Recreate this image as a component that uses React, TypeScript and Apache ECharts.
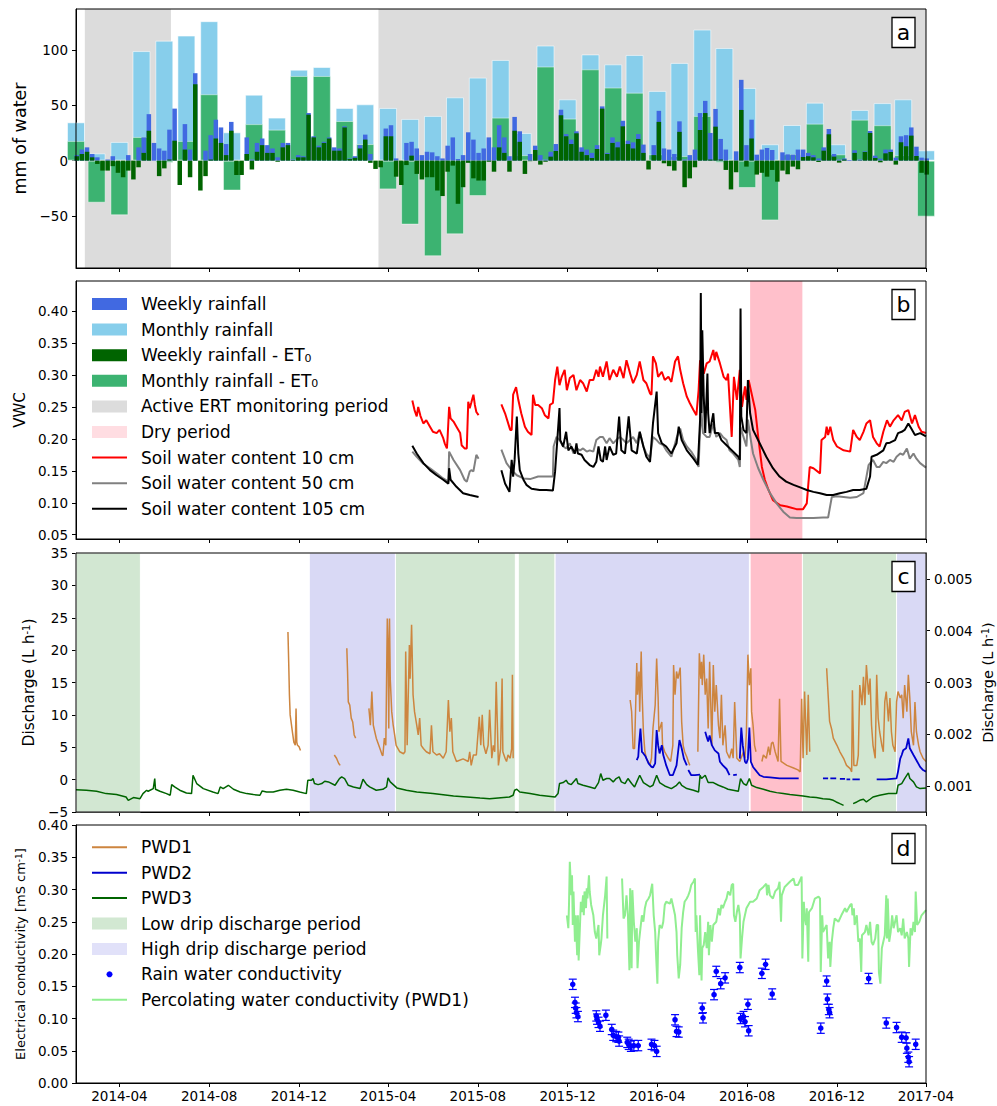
import { useEffect, useRef } from 'react';
import * as echarts from 'echarts';

const FONT = 'DejaVu Sans';
// x values are days counted from 2014-02-01 (2017-04-01 = day 1155)
const X_MAX = 1155;
const xTickDays = [59, 181, 303, 424, 546, 668, 790, 912, 1034, 1155];
const xTickLabels = ['2014-04', '2014-08', '2014-12', '2015-04', '2015-08', '2015-12', '2016-04', '2016-08', '2016-12', '2017-04'];

// ---------- panel a: rainfall (months from Feb 2014, weeks from 2014-02-02) ----------
const monthlyRain = [34.6, 6.6, 16.9, 99, 108.4, 113, 126, 25.6, 59.6, 38.9, 82.2, 84.6, 47.6, 50.9, 47.6, 37.7, 40.4, 57.2, 75, 91, 25, 104, 55.4, 96, 87, 95.5, 63, 88.3, 118.4, 101.8, 65.7, 14.8, 32.2, 52.4, 14.8, 45.8, 52, 55.4, 9.3];
const monthlyNet = [17.8, -38, -49.4, 21.4, -2, 17.8, 60, -27, 33, 28, 76.5, 76.5, 35.8, 15, -26, -57.8, -86.4, -66.6, -32, 38.9, 5, 85, 38, 82.5, 66, 61.4, 5.7, 4.2, 40.4, -2, -24.7, -54, 5.7, 33.4, 5.7, 37, 32, 5, -50.6];
const weeklyRain = [5, 10, 12, 6, 3, 0, 1, 4, 0, 0, 5, 0, 12, 21, 42, 16, 11, 9, 28, 47, 0, 33, 10, 79, 0, 9, 23, 37, 30, 15, 35, 0, 0, 21, 1, 16, 20, 14, 11, 3, 16, 16, 1, 5, 4, 43, 22, 13.5, 17, 21, 12, 11, 31, 2, 4, 14, 23.5, 6, 0, 0, 29, 32, 2, 0, 16, 17, 11, 5, 8, 7.5, 4, 2, 13.5, 21, 1.5, 5, 25.6, 19, 7, 11, 21, 12, 32, 21, 4, 39.5, 26.5, 0, 6, 13.5, 5, 1, 8, 15, 46, 24, 19, 26.5, 12, 10, 7, 14, 49, 7, 21, 17, 36, 18, 16.5, 24, 14.5, 0, 14, 45, 11, 10, 6, 35.5, 1, 5, 10, 43, 54, 25, 46.7, 19.6, 10, 0, 8.4, 73, 14, 37, 5.4, 10, 11.4, 9.6, 0, 7.5, 5.7, 5.4, 10, 10, 7, 5, 2, 12, 28.6, 6, 1, 2, 0.6, 9.3, 1, 8.4, 26.8, 4.5, 1.8, 10, 10, 2.7, 22, 23, 30, 12.6, 2.7, 2];
const weeklyNet = [4, 6, 8, 3, -3, -9, -9, -5, -11, -15, -9, -17, -6, 7, 27, 0, -14, -7, 1, 18, -22, 10, -15, 69, -27, -14, 1, 20, 16, 5, 27, -13, -13, 6, -8, 8, 14, 7, 7, -1, 12, 14, 0.5, 3, 3, 41.5, 21, 12, 16, 20, 9, 9, 30, 1.5, 2.5, 11, 19, -2, -7.5, -6, 22, 22, -14.5, -22, -4, 4.5, -12, -17, -15, -15, -27, -32, -10, -4.5, -39, -24, -2, -16, -18, -18, -1, -10, 12, 7, -10, 27, 17, -12, -0.5, 9.6, -3.6, -1, 3.6, 8.7, 41, 22, 15, 24.7, 8, 5, 2.4, 10.5, 47, 6, 16, 12, 31, 15, 11, 19.6, 7, -8, 5, 35, -2.4, -5, -9, 26, -24, -16, -6, 27.7, 43, 1, 30.7, 1, -8.4, -26, -10.5, 45.8, -5.4, 20, -12.6, -11, -14.5, -8.4, -19, -9, -12.3, -5.4, -7.8, 3.3, 4, 3, -1.2, 9, 23.8, 3.6, -1.8, 1, 0, 7, 0.3, 7.8, 25, 2.4, -1.5, 6.6, 7.8, -3.6, 16.6, 13, 22.6, 4.2, -11, -12.6];
const ertPeriods = [[12, 129], [411, 1155]];

// ---------- panel b: soil water content ----------
const dryPeriod = [916, 987];
const swc10 = [
  [[457, 0.260], [460, 0.245], [463, 0.235], [465, 0.250], [468, 0.236], [472, 0.224], [476, 0.229], [481, 0.219], [485, 0.211], [490, 0.209], [494, 0.214], [499, 0.201], [501, 0.193], [504, 0.185], [505, 0.203], [507, 0.250], [509, 0.232], [513, 0.227], [517, 0.219], [522, 0.209], [524, 0.190], [528, 0.185], [531, 0.185], [533, 0.258], [535, 0.248], [537, 0.256], [540, 0.269], [542, 0.253], [544, 0.242], [547, 0.237]],
  [[578, 0.254], [583, 0.240], [590, 0.214], [592, 0.214], [594, 0.269], [598, 0.281], [601, 0.261], [605, 0.240], [610, 0.219], [614, 0.211], [619, 0.206], [621, 0.269], [624, 0.253], [628, 0.253], [633, 0.248], [637, 0.237], [642, 0.232], [644, 0.253], [648, 0.256], [651, 0.292], [654, 0.313], [657, 0.284], [660, 0.297], [664, 0.308], [667, 0.276], [671, 0.295], [676, 0.300], [680, 0.276], [685, 0.292], [689, 0.287], [694, 0.274], [698, 0.292], [703, 0.292], [707, 0.308], [710, 0.297], [712, 0.313], [716, 0.297], [721, 0.321], [725, 0.292], [730, 0.308], [735, 0.297], [739, 0.313], [744, 0.295], [748, 0.323], [753, 0.302], [757, 0.287], [762, 0.300], [766, 0.321], [771, 0.292], [775, 0.287], [780, 0.271], [782, 0.269], [784, 0.329], [788, 0.318], [791, 0.297], [796, 0.305], [800, 0.292], [805, 0.297], [809, 0.289], [814, 0.321], [818, 0.329], [821, 0.308], [825, 0.287], [830, 0.266], [834, 0.256], [839, 0.245], [843, 0.237], [846, 0.276], [848, 0.323], [850, 0.315], [853, 0.302], [857, 0.318], [861, 0.321], [866, 0.339], [868, 0.323], [870, 0.336], [875, 0.318], [880, 0.297], [884, 0.292], [886, 0.302], [891, 0.203], [894, 0.297], [898, 0.261], [902, 0.308], [905, 0.250], [909, 0.282], [911, 0.261], [914, 0.292], [918, 0.271], [923, 0.245], [927, 0.203], [932, 0.156], [936, 0.136], [941, 0.120], [947, 0.104], [957, 0.096], [966, 0.094], [979, 0.090], [988, 0.090], [993, 0.099], [997, 0.156], [1002, 0.154], [1011, 0.146], [1013, 0.198], [1018, 0.203], [1020, 0.219], [1022, 0.206], [1025, 0.219], [1029, 0.198], [1034, 0.188], [1043, 0.182], [1052, 0.180], [1056, 0.214], [1061, 0.203], [1065, 0.198], [1070, 0.211], [1074, 0.224], [1079, 0.229], [1083, 0.203], [1088, 0.193], [1092, 0.188], [1097, 0.211], [1102, 0.229], [1106, 0.219], [1111, 0.229], [1117, 0.237], [1122, 0.229], [1126, 0.242], [1131, 0.245], [1136, 0.224], [1140, 0.237], [1145, 0.219], [1149, 0.211], [1155, 0.209]],
];
const swc50 = [
  [[457, 0.180], [463, 0.172], [472, 0.161], [481, 0.154], [490, 0.146], [499, 0.138], [506, 0.133], [507, 0.180], [513, 0.167], [522, 0.151], [528, 0.136], [531, 0.133], [535, 0.149], [537, 0.151], [540, 0.149], [542, 0.162], [544, 0.175], [547, 0.169]],
  [[578, 0.183], [585, 0.162], [592, 0.151], [599, 0.143], [608, 0.138], [617, 0.137], [628, 0.141], [639, 0.141], [648, 0.141], [649, 0.188], [653, 0.203], [657, 0.198], [662, 0.188], [666, 0.185], [671, 0.193], [676, 0.177], [680, 0.185], [685, 0.182], [689, 0.185], [694, 0.180], [698, 0.182], [703, 0.180], [707, 0.198], [712, 0.203], [716, 0.203], [721, 0.193], [725, 0.201], [730, 0.193], [734, 0.198], [739, 0.203], [744, 0.198], [748, 0.193], [753, 0.198], [757, 0.203], [762, 0.193], [766, 0.211], [771, 0.188], [775, 0.177], [780, 0.170], [784, 0.203], [789, 0.198], [793, 0.193], [798, 0.190], [802, 0.182], [809, 0.172], [816, 0.201], [821, 0.216], [825, 0.198], [830, 0.188], [836, 0.180], [843, 0.167], [846, 0.156], [848, 0.214], [850, 0.240], [852, 0.209], [857, 0.203], [861, 0.203], [866, 0.224], [870, 0.203], [875, 0.209], [879, 0.203], [884, 0.198], [888, 0.182], [893, 0.177], [900, 0.167], [902, 0.156], [903, 0.219], [907, 0.203], [911, 0.188], [913, 0.230], [917, 0.198], [920, 0.177], [927, 0.154], [934, 0.136], [943, 0.115], [952, 0.099], [961, 0.086], [970, 0.077], [979, 0.076], [993, 0.076], [1002, 0.076], [1015, 0.077], [1022, 0.077], [1027, 0.109], [1034, 0.110], [1043, 0.109], [1052, 0.108], [1061, 0.109], [1070, 0.115], [1077, 0.159], [1079, 0.162], [1083, 0.167], [1088, 0.156], [1092, 0.156], [1097, 0.164], [1101, 0.162], [1106, 0.167], [1111, 0.164], [1115, 0.172], [1120, 0.177], [1124, 0.175], [1129, 0.185], [1133, 0.169], [1138, 0.177], [1142, 0.169], [1147, 0.162], [1155, 0.155]],
];
const swc105 = [
  [[457, 0.189], [463, 0.177], [472, 0.162], [481, 0.151], [490, 0.143], [499, 0.136], [506, 0.130], [507, 0.154], [509, 0.136], [517, 0.125], [526, 0.115], [535, 0.112], [547, 0.109]],
  [[578, 0.151], [583, 0.130], [589, 0.117], [592, 0.167], [594, 0.141], [596, 0.167], [599, 0.235], [601, 0.177], [603, 0.151], [608, 0.136], [612, 0.128], [619, 0.122], [630, 0.120], [639, 0.120], [648, 0.119], [651, 0.149], [654, 0.198], [657, 0.248], [658, 0.198], [662, 0.188], [666, 0.211], [669, 0.182], [673, 0.188], [678, 0.177], [680, 0.193], [682, 0.177], [687, 0.175], [691, 0.167], [698, 0.159], [703, 0.156], [707, 0.164], [710, 0.188], [713, 0.167], [716, 0.164], [719, 0.188], [721, 0.167], [725, 0.188], [730, 0.175], [734, 0.177], [738, 0.235], [741, 0.182], [746, 0.177], [751, 0.235], [755, 0.182], [762, 0.177], [766, 0.211], [771, 0.188], [775, 0.172], [780, 0.164], [784, 0.224], [789, 0.274], [791, 0.209], [796, 0.193], [802, 0.188], [809, 0.177], [816, 0.193], [819, 0.219], [823, 0.198], [830, 0.182], [839, 0.169], [845, 0.159], [848, 0.229], [849, 0.428], [850, 0.240], [851, 0.370], [853, 0.266], [855, 0.209], [858, 0.302], [859, 0.240], [861, 0.209], [866, 0.240], [868, 0.209], [873, 0.209], [877, 0.198], [884, 0.190], [893, 0.180], [900, 0.172], [902, 0.167], [903, 0.404], [904, 0.235], [907, 0.214], [911, 0.209], [913, 0.292], [916, 0.240], [920, 0.214], [929, 0.193], [938, 0.172], [947, 0.154], [956, 0.141], [965, 0.133], [975, 0.128], [984, 0.124], [993, 0.120], [1002, 0.117], [1011, 0.115], [1020, 0.112], [1029, 0.112], [1038, 0.115], [1047, 0.117], [1056, 0.120], [1065, 0.120], [1074, 0.122], [1079, 0.141], [1081, 0.172], [1088, 0.175], [1097, 0.182], [1101, 0.193], [1106, 0.194], [1113, 0.198], [1117, 0.209], [1122, 0.211], [1126, 0.214], [1131, 0.224], [1135, 0.216], [1140, 0.206], [1147, 0.209], [1155, 0.204]],
];

// ---------- panel c: drip discharge ----------
const lowDripPeriods = [[0, 87.5], [434, 597], [601, 651], [987, 1115]];
const highDripPeriods = [[317, 434], [651, 915], [1115, 1155]];
const pwd1 = [
  [[288, 22.8], [289, 18.2], [290, 13.1], [291, 10.0], [294, 7.4], [296, 5.8], [298, 5.3], [299, 11.0], [300, 5.8], [301, 5.3], [303, 5.1], [305, 4.5]],
  [[351, 3.8], [354, 3.3], [357, 2.5], [359, 2.2]],
  [[368, 20.3], [369, 16.7], [370, 12.0], [372, 11.5], [374, 9.5], [376, 8.9], [378, 6.9], [380, 6.4]],
  [[398, 11.0], [400, 8.4], [402, 13.6], [404, 8.4], [406, 7.4], [408, 6.4], [413, 4.8], [416, 3.8], [417, 3.7], [419, 6.4], [421, 5.3], [423, 24.9], [424, 20.8], [425, 7.9], [426, 24.9], [427, 15.6], [429, 10.5], [431, 8.4], [433, 6.9], [435, 5.3], [440, 4.3], [445, 4.0], [447, 4.3], [448, 19.8], [450, 5.3], [453, 20.8], [454, 15.6], [456, 23.9], [458, 13.1], [460, 10.5], [463, 8.4], [465, 6.9], [467, 9.5], [469, 5.3], [472, 4.8], [476, 4.3], [481, 4.0], [483, 8.4], [485, 4.3], [490, 3.8], [494, 4.0], [499, 3.3], [503, 4.3], [506, 12.3], [508, 7.4], [510, 9.5], [512, 4.3], [517, 2.8], [526, 3.2], [533, 2.8], [535, 4.3], [537, 2.2], [540, 3.8], [544, 3.8], [548, 9.7], [550, 5.3], [552, 10.0], [554, 5.3], [557, 4.0], [560, 5.3], [562, 10.8], [565, 3.3], [567, 5.3], [569, 4.3], [571, 15.1], [574, 2.2], [577, 4.8], [579, 15.6], [580, 4.3], [583, 3.3], [585, 2.8], [587, 3.8], [590, 3.3], [592, 4.8], [593, 16.2], [594, 3.3]],
  [[753, 12.3], [755, 10.5], [757, 4.8], [759, 4.8], [762, 18.0], [763, 13.1], [765, 16.7], [766, 10.5], [768, 19.8], [769, 14.1], [771, 7.4], [773, 4.3], [775, 3.3], [780, 2.3], [782, 3.3], [784, 7.9], [787, 11.5], [789, 18.7], [791, 12.6], [792, 7.4], [796, 8.9], [797, 5.3], [800, 4.3], [805, 3.3], [808, 2.8], [811, 5.3], [812, 17.7], [814, 13.1], [816, 16.7], [818, 15.6], [821, 17.3], [823, 8.9], [825, 5.3], [827, 4.3], [830, 3.5], [832, 2.8], [834, 2.2]],
  [[845, 4.3], [847, 19.5], [849, 15.6], [850, 18.2], [851, 14.6], [853, 19.3], [855, 13.1], [857, 15.6], [859, 7.9], [861, 18.2], [864, 5.3], [866, 17.7], [868, 10.5], [870, 14.6], [873, 8.4], [875, 6.4], [877, 13.1], [879, 5.3], [882, 8.4], [884, 4.3], [888, 3.3], [891, 4.8], [893, 3.3], [895, 12.0], [898, 3.3], [902, 2.8], [907, 4.3], [909, 3.3], [911, 7.4], [913, 19.3], [915, 14.6], [917, 17.2], [918, 10.5], [920, 8.4], [922, 5.3], [924, 4.3]],
  [[932, 2.8], [934, 3.8], [938, 3.3], [941, 5.1], [943, 3.8], [945, 5.6], [947, 5.8], [950, 4.3], [954, 2.8], [956, 12.5], [958, 2.8], [966, 2.2], [975, 1.8], [981, 1.5], [984, 1.2], [986, 12.5], [988, 3.3], [990, 13.6], [993, 3.8], [995, 13.1], [997, 4.3]],
  [[1020, 17.2], [1022, 13.1], [1024, 9.0], [1027, 7.7], [1029, 6.4], [1034, 5.3], [1038, 4.3], [1043, 3.3], [1047, 2.2], [1052, 1.7], [1054, 1.2], [1055, 13.8], [1057, 2.2], [1061, 2.2], [1063, 3.8], [1065, 14.6], [1068, 11.5], [1070, 15.9], [1072, 11.5], [1074, 17.7], [1077, 13.1], [1079, 15.6], [1081, 8.4], [1083, 5.3], [1086, 3.3], [1088, 16.2], [1090, 9.5], [1092, 7.4], [1095, 5.3], [1097, 4.3], [1099, 12.0], [1101, 13.6], [1104, 9.0], [1106, 12.6], [1108, 7.4], [1110, 5.3], [1113, 4.3], [1115, 12.0], [1117, 13.6], [1120, 12.6], [1122, 13.1], [1124, 9.5], [1126, 14.6], [1129, 10.5], [1131, 16.2], [1133, 12.6], [1135, 7.4], [1138, 5.3], [1140, 12.0], [1142, 7.4], [1145, 5.3], [1147, 4.3], [1149, 3.8], [1151, 3.3], [1155, 2.8]],
];
const pwd2 = [
  [[762, 0.00150], [764, 0.00157], [765, 0.00179], [767, 0.00211], [769, 0.00166], [771, 0.00163], [774, 0.00157], [778, 0.00144], [782, 0.00137], [784, 0.00136], [787, 0.00144], [789, 0.00208], [791, 0.00179], [793, 0.00163], [796, 0.00179], [798, 0.00160], [802, 0.00140], [807, 0.00121], [811, 0.00121], [816, 0.00140], [820, 0.00189], [823, 0.00173], [826, 0.00153], [830, 0.00140]],
  [[832, 0.00131], [836, 0.00121], [841, 0.00121], [848, 0.00122]],
  [[855, 0.00205], [857, 0.00195], [859, 0.00186], [861, 0.00198], [864, 0.00179], [868, 0.00169], [873, 0.00163], [875, 0.00147], [879, 0.00140], [884, 0.00133], [888, 0.00121]],
  [[893, 0.00121], [898, 0.00122]],
  [[902, 0.00153], [904, 0.00213], [906, 0.00179], [909, 0.00147], [911, 0.00144], [913, 0.00153], [915, 0.00213], [917, 0.00147], [920, 0.00137], [925, 0.00128], [929, 0.00121], [934, 0.00118], [943, 0.00117], [956, 0.00115], [970, 0.00115], [982, 0.00115]],
  [[1015, 0.00115], [1022, 0.00115]],
  [[1025, 0.00115], [1033, 0.00115]],
  [[1038, 0.00114], [1045, 0.00114]],
  [[1047, 0.00113], [1052, 0.00113]],
  [[1055, 0.00113], [1065, 0.00113]],
  [[1088, 0.00113], [1101, 0.00113], [1115, 0.00115], [1117, 0.00128], [1120, 0.00153], [1122, 0.00160], [1124, 0.00169], [1128, 0.00173], [1131, 0.00192], [1133, 0.00173], [1138, 0.00160], [1142, 0.00150], [1147, 0.00137], [1151, 0.00131], [1155, 0.00128]],
];
const pwd3 = [
  [[0, 0.00093], [14, 0.00092], [28, 0.00090], [41, 0.000855], [55, 0.000836], [68, 0.00079], [71, 0.000726], [78, 0.000778], [87, 0.000758], [91, 0.000855], [96, 0.00092], [98, 0.0009], [105, 0.000952], [107, 0.001146], [108, 0.000939], [114, 0.0009], [123, 0.000855], [128, 0.000823], [130, 0.001029], [134, 0.000984], [141, 0.00092], [150, 0.000868], [157, 0.000855], [159, 0.00121], [164, 0.001049], [173, 0.000952], [186, 0.000887], [193, 0.000855], [196, 0.000984], [200, 0.000952], [207, 0.001016], [214, 0.000939], [223, 0.000887], [232, 0.000855], [241, 0.000836], [250, 0.000823], [253, 0.000907], [259, 0.000887], [268, 0.000887], [277, 0.00092], [286, 0.000939], [295, 0.00092], [304, 0.000887], [313, 0.000855], [315, 0.001113], [320, 0.001113], [322, 0.001146], [324, 0.001049], [329, 0.001029], [334, 0.001049], [338, 0.001094], [343, 0.001081], [352, 0.001016], [358, 0.001146], [361, 0.001178], [365, 0.001146], [370, 0.001016], [377, 0.000984], [386, 0.000952], [390, 0.001133], [395, 0.001029], [399, 0.000984], [408, 0.00092], [417, 0.000939], [422, 0.000984], [424, 0.001158], [427, 0.001081], [436, 0.000965], [449, 0.00092], [463, 0.000887], [485, 0.000855], [513, 0.00081], [549, 0.000771], [562, 0.000758], [589, 0.00079], [594, 0.000823], [596, 0.00092], [599, 0.000939], [603, 0.000887], [617, 0.000855], [630, 0.000823], [651, 0.00079], [655, 0.000855], [657, 0.001049], [662, 0.001068], [666, 0.001113], [669, 0.001049], [673, 0.001029], [678, 0.001113], [680, 0.001146], [682, 0.001049], [689, 0.001016], [698, 0.000984], [705, 0.000952], [710, 0.001068], [713, 0.001242], [716, 0.001113], [721, 0.001146], [725, 0.001146], [730, 0.001081], [734, 0.001146], [738, 0.001178], [741, 0.001081], [746, 0.001049], [750, 0.001146], [755, 0.001049], [759, 0.000984], [762, 0.001081], [766, 0.00121], [771, 0.001068], [780, 0.000984], [784, 0.001016], [789, 0.00121], [793, 0.001068], [800, 0.001003], [809, 0.000952], [816, 0.001016], [820, 0.001081], [823, 0.001016], [830, 0.000952], [839, 0.00092], [846, 0.000887], [848, 0.00121], [850, 0.001146], [855, 0.00121], [859, 0.001068], [866, 0.001068], [873, 0.001016], [879, 0.000984], [886, 0.000939], [893, 0.00092], [900, 0.0009], [903, 0.001146], [907, 0.001049], [911, 0.001016], [915, 0.001146], [918, 0.001016], [925, 0.000971], [934, 0.000939], [943, 0.0009], [952, 0.000874], [961, 0.000855], [970, 0.000836], [979, 0.000823], [988, 0.00081], [997, 0.00079], [1006, 0.000778], [1015, 0.000758], [1024, 0.000746], [1029, 0.000726], [1033, 0.000694], [1038, 0.000661], [1043, 0.000629]],
  [[1056, 0.000661], [1061, 0.000694], [1065, 0.000726], [1070, 0.000746], [1074, 0.000694], [1079, 0.000746], [1083, 0.00079], [1092, 0.000823], [1104, 0.000855], [1115, 0.000855], [1117, 0.001016], [1122, 0.001049], [1126, 0.001146], [1131, 0.001255], [1133, 0.001146], [1138, 0.001081], [1142, 0.000984], [1147, 0.000952], [1155, 0.000965]],
];

// ---------- panel d: electrical conductivity ----------
const percolatingEc = [
  [[667, 0.260], [669, 0.240], [670, 0.281], [671, 0.343], [673, 0.291], [674, 0.322], [675, 0.245], [676, 0.297], [678, 0.219], [679, 0.260], [681, 0.198], [682, 0.260], [683, 0.190], [685, 0.250], [686, 0.281], [687, 0.265], [689, 0.291], [690, 0.260], [691, 0.297], [693, 0.271], [694, 0.302], [695, 0.286], [697, 0.322], [698, 0.297], [700, 0.276], [703, 0.260], [705, 0.234], [707, 0.224], [710, 0.245], [711, 0.198], [713, 0.214], [714, 0.224], [716, 0.260], [719, 0.291], [721, 0.320], [722, 0.224]],
  [[742, 0.317], [744, 0.255], [746, 0.260], [748, 0.291], [750, 0.260], [752, 0.175], [753, 0.302], [755, 0.178], [756, 0.299], [758, 0.250], [760, 0.219], [762, 0.240], [763, 0.178], [765, 0.219], [767, 0.240], [769, 0.260], [771, 0.250], [773, 0.271], [775, 0.281], [778, 0.286], [780, 0.291], [783, 0.309], [785, 0.260], [787, 0.234], [788, 0.203], [790, 0.154], [791, 0.219], [793, 0.245], [796, 0.240], [798, 0.250], [800, 0.276], [802, 0.281], [807, 0.278], [809, 0.286], [811, 0.276], [814, 0.260], [816, 0.234], [817, 0.198], [819, 0.162], [821, 0.183], [823, 0.240], [825, 0.265], [827, 0.281], [830, 0.286], [832, 0.291], [834, 0.297], [836, 0.307], [839, 0.312], [841, 0.317], [842, 0.234], [843, 0.260], [845, 0.209], [847, 0.167], [848, 0.260], [850, 0.159], [851, 0.209], [853, 0.214], [855, 0.234], [857, 0.209], [859, 0.250], [860, 0.198], [862, 0.245], [864, 0.219], [866, 0.245], [870, 0.250], [873, 0.271], [875, 0.260], [877, 0.276], [879, 0.271], [882, 0.281], [884, 0.286], [886, 0.297], [889, 0.291], [891, 0.307], [893, 0.309], [894, 0.260], [896, 0.250], [898, 0.265], [900, 0.276], [902, 0.260], [903, 0.193], [905, 0.224], [907, 0.250], [911, 0.271], [916, 0.281], [920, 0.281], [925, 0.286], [929, 0.299], [934, 0.304], [938, 0.309], [939, 0.291], [941, 0.307], [943, 0.291], [947, 0.286], [950, 0.297], [954, 0.302], [956, 0.312], [958, 0.250], [959, 0.291], [963, 0.304], [970, 0.312], [975, 0.317], [977, 0.307], [981, 0.307], [986, 0.320], [987, 0.193], [989, 0.281], [990, 0.260], [992, 0.245], [993, 0.271], [995, 0.188], [996, 0.265], [1000, 0.271], [1004, 0.286], [1009, 0.289], [1011, 0.286], [1012, 0.172], [1014, 0.260], [1015, 0.234], [1020, 0.245], [1022, 0.193], [1024, 0.219], [1025, 0.180], [1027, 0.219], [1029, 0.240], [1031, 0.255], [1036, 0.250], [1040, 0.260], [1045, 0.271], [1047, 0.265], [1052, 0.276], [1054, 0.278], [1055, 0.260], [1057, 0.271], [1058, 0.245], [1061, 0.260], [1063, 0.219], [1065, 0.224], [1067, 0.172], [1068, 0.229], [1072, 0.234], [1074, 0.245], [1077, 0.229], [1079, 0.250], [1081, 0.219], [1083, 0.214], [1086, 0.224], [1088, 0.245], [1090, 0.245], [1091, 0.172], [1093, 0.154], [1095, 0.209], [1097, 0.219], [1099, 0.229], [1101, 0.291], [1102, 0.224], [1103, 0.286], [1105, 0.219], [1107, 0.234], [1109, 0.260], [1111, 0.240], [1115, 0.260], [1117, 0.234], [1120, 0.240], [1122, 0.229], [1124, 0.255], [1126, 0.224], [1129, 0.234], [1131, 0.224], [1132, 0.180], [1134, 0.240], [1136, 0.229], [1138, 0.250], [1140, 0.234], [1141, 0.297], [1143, 0.245], [1146, 0.250], [1149, 0.260], [1155, 0.268]],
];
const rainEc = [[675, 0.153], [678, 0.125], [679, 0.116], [680, 0.109], [682, 0.103], [707, 0.104], [708, 0.099], [710, 0.094], [712, 0.088], [720, 0.105], [728, 0.083], [730, 0.074], [734, 0.072], [737, 0.071], [738, 0.065], [749, 0.063], [751, 0.060], [754, 0.057], [758, 0.058], [764, 0.058], [782, 0.060], [786, 0.058], [789, 0.049], [814, 0.098], [816, 0.080], [819, 0.079], [851, 0.116], [852, 0.101], [867, 0.137], [870, 0.173], [876, 0.154], [882, 0.163], [902, 0.179], [903, 0.100], [907, 0.103], [909, 0.095], [913, 0.122], [914, 0.081], [932, 0.170], [937, 0.184], [946, 0.138], [1012, 0.085], [1020, 0.158], [1021, 0.130], [1023, 0.114], [1024, 0.109], [1077, 0.162], [1101, 0.093], [1115, 0.086], [1122, 0.071], [1128, 0.070], [1129, 0.054], [1131, 0.040], [1132, 0.033], [1141, 0.060]];
const RAIN_EC_ERR = 0.008;

// ---------- layout ----------
const GRID_LEFT = 76;
const GRID_W = 850;
const panelTops = [9, 281, 553, 825];
const panelHeights = [259, 258, 259, 258];
const panelLetters = ['a', 'b', 'c', 'd'];

const monthStartDay = (m: number) => Math.round((Date.UTC(2014, 1 + m, 1) - Date.UTC(2014, 1, 1)) / 86400000);
const joinSegments = (segs: number[][][]) => {
  const out: any[] = [];
  segs.forEach((s, i) => {
    if (i > 0) out.push([s[0][0] - 0.5, null]);
    s.forEach((p) => out.push(p));
  });
  return out;
};
const minus = (s: string) => s.replace('-', '\u2212');

const tickLabelStyle = { color: '#000', fontFamily: FONT, fontSize: 13.5 };

function xAxisFor(grid: number, labels: boolean, hidden = false) {
  if (hidden) return { type: 'value', gridIndex: grid, min: 0, max: X_MAX, show: false };
  return {
    type: 'value', gridIndex: grid, min: 0, max: X_MAX,
    axisLine: { show: true, onZero: false, lineStyle: { color: '#000', width: 1 } },
    splitLine: { show: false },
    axisTick: { show: true, customValues: xTickDays, length: 4, lineStyle: { color: '#000', width: 1 } },
    axisLabel: labels
      ? { show: true, customValues: xTickDays, margin: 6, ...tickLabelStyle,
          formatter: (v: number) => { const i = xTickDays.findIndex((d) => Math.abs(d - v) < 0.5); return i >= 0 ? xTickLabels[i] : ''; } }
      : { show: false },
  };
}

function yAxisFor(grid: number, min: number, max: number, ticks: number[], fmt: (v: number) => string, extra: any = {}) {
  return {
    type: 'value', gridIndex: grid, min, max,
    axisLine: { show: true, lineStyle: { color: '#000', width: 1 } },
    splitLine: { show: false },
    axisTick: { show: true, customValues: ticks, length: 4, lineStyle: { color: '#000', width: 1 } },
    axisLabel: { show: true, customValues: ticks, formatter: fmt, margin: 8, lineHeight: 12, ...tickLabelStyle },
    nameLocation: 'middle',
    ...extra,
  };
}

function legendElements(rowTop: number, dy: number, items: any[]) {
  const els: any[] = [];
  items.forEach((it, i) => {
    const cy = rowTop + i * dy;
    if (it.kind === 'rect') {
      els.push({ type: 'rect', z: 100, shape: { x: 92, y: cy - 6, width: 35, height: 12 }, style: { fill: it.color } });
    } else if (it.kind === 'line') {
      els.push({ type: 'line', z: 100, shape: { x1: 92, y1: cy, x2: 127, y2: cy }, style: { stroke: it.color, lineWidth: 2 } });
    } else {
      els.push({ type: 'circle', z: 100, shape: { cx: 109.5, cy, r: 3 }, style: { fill: it.color } });
    }
    els.push({
      type: 'text', z: 100, x: 141, y: cy,
      style: {
        text: it.text, fill: '#000', fontSize: 17, fontFamily: FONT,
        textVerticalAlign: 'middle', verticalAlign: 'middle',
        rich: { sub: { fontSize: 11, lineHeight: 11, verticalAlign: 'bottom', fontFamily: FONT, fill: '#000' } },
      },
    });
  });
  return els;
}

const supRich = { sup: { fontSize: 10, lineHeight: 10, verticalAlign: 'top', fontFamily: FONT, color: '#000' } };

export default function App() {
  const ref = useRef<HTMLDivElement>(null);
  useEffect(() => {
    if (!ref.current) return;
    const chart = echarts.init(ref.current, null, { renderer: 'svg' });

    const graphics: any[] = [];
    panelTops.forEach((t, i) => {
      graphics.push({ type: 'rect', z: 99, shape: { x: GRID_LEFT, y: t, width: GRID_W, height: panelHeights[i] }, style: { fill: 'none', stroke: '#000', lineWidth: 1 } });
      graphics.push({ type: 'rect', z: 100, shape: { x: 892, y: t + 8.5, width: 23, height: 30 }, style: { fill: '#fff', stroke: '#000', lineWidth: 1.3 } });
      graphics.push({ type: 'text', z: 101, x: 903.5, y: t + 23, style: { text: panelLetters[i], fill: '#000', fontSize: 22, fontFamily: FONT, align: 'center', textAlign: 'center', verticalAlign: 'middle', textVerticalAlign: 'middle' } });
    });
    graphics.push(...legendElements(304, 25.6, [
      { kind: 'rect', color: '#4169E1', text: 'Weekly rainfall' },
      { kind: 'rect', color: '#87CEEB', text: 'Monthly rainfall' },
      { kind: 'rect', color: '#006400', text: 'Weekly rainfall - ET{sub|0}' },
      { kind: 'rect', color: '#3CB371', text: 'Monthly rainfall - ET{sub|0}' },
      { kind: 'rect', color: '#DCDCDC', text: 'Active ERT monitoring period' },
      { kind: 'rect', color: '#FFDDE2', text: 'Dry period' },
      { kind: 'line', color: '#FF0000', text: 'Soil water content 10 cm' },
      { kind: 'line', color: '#808080', text: 'Soil water content 50 cm' },
      { kind: 'line', color: '#000000', text: 'Soil water content 105 cm' },
    ]));
    graphics.push(...legendElements(847.3, 25.4, [
      { kind: 'line', color: '#CD853F', text: 'PWD1' },
      { kind: 'line', color: '#0000CD', text: 'PWD2' },
      { kind: 'line', color: '#006400', text: 'PWD3' },
      { kind: 'rect', color: '#D2E8D2', text: 'Low drip discharge period' },
      { kind: 'rect', color: '#E1E1F9', text: 'High drip discharge period' },
      { kind: 'dot', color: '#0000FF', text: 'Rain water conductivity' },
      { kind: 'line', color: '#90EE90', text: 'Percolating water conductivity (PWD1)' },
    ]));

    const dripAreas = [
      ...lowDripPeriods.map(([a, b]) => [{ xAxis: a, itemStyle: { color: '#D2E7D2' } }, { xAxis: b }]),
      ...highDripPeriods.map(([a, b]) => [{ xAxis: a, itemStyle: { color: '#D9D9F5' } }, { xAxis: b }]),
      [{ xAxis: dryPeriod[0], itemStyle: { color: '#FFC0CB' } }, { xAxis: dryPeriod[1] }],
    ];

    const lineStyleSeries = (name: string, xi: number, yi: number, data: any[], color: string, width: number, extra: any = {}) => ({
      type: 'line', name, xAxisIndex: xi, yAxisIndex: yi, data, showSymbol: false, symbol: 'none',
      connectNulls: false, lineStyle: { color, width }, itemStyle: { color }, silent: true, z: 3, ...extra,
    });

    const option: any = {
      animation: false,
      backgroundColor: '#fff',
      textStyle: { fontFamily: FONT },
      grid: panelTops.map((t, i) => ({ left: GRID_LEFT, top: t, width: GRID_W, height: panelHeights[i], show: false, containLabel: false, outerBoundsMode: 'none' })),
      xAxis: [xAxisFor(0, false), xAxisFor(0, false, true), xAxisFor(1, false), xAxisFor(2, false), xAxisFor(3, true)],
      yAxis: [
        yAxisFor(0, -97, 137, [-50, 0, 50, 100], (v) => minus(String(v)), {
          name: 'mm of water', nameGap: 42, nameTextStyle: { fontSize: 17.5, fontFamily: FONT, color: '#000' } }),
        yAxisFor(1, 0.0433, 0.4469, [0.05, 0.1, 0.15, 0.2, 0.25, 0.3, 0.35, 0.4], (v) => v.toFixed(2), {
          name: 'VWC', nameGap: 45, nameTextStyle: { fontSize: 15, fontFamily: FONT, color: '#000' } }),
        yAxisFor(2, -5, 35, [-5, 0, 5, 10, 15, 20, 25, 30, 35], (v) => minus(String(v)), {
          name: 'Discharge (L h{sup|-1})', nameGap: 38, nameTextStyle: { fontSize: 15.5, fontFamily: FONT, color: '#000', rich: supRich } }),
        yAxisFor(2, 0.0005, 0.0055, [0.001, 0.002, 0.003, 0.004, 0.005], (v) => v.toFixed(3), {
          position: 'right', name: 'Discharge (L h{sup|-1})', nameGap: 54, nameMoveOverlap: false,
          nameTextStyle: { fontSize: 14.5, lineHeight: 15, fontFamily: FONT, color: '#000', rich: supRich } }),
        yAxisFor(3, 0, 0.4, [0, 0.05, 0.1, 0.15, 0.2, 0.25, 0.3, 0.35, 0.4], (v) => v.toFixed(2), {
          name: 'Electrical conductivity [mS cm{sup|-1}]', nameGap: 46, nameTextStyle: { fontSize: 13, fontFamily: FONT, color: '#000', rich: { sup: { fontSize: 9, lineHeight: 9, verticalAlign: 'top', fontFamily: FONT, color: '#000' } } } }),
      ],
      series: [
        {
          type: 'bar', name: 'Monthly rainfall', xAxisIndex: 1, yAxisIndex: 0, barWidth: 18, barGap: '-100%',
          data: monthlyRain.map((v, i) => [monthStartDay(i), v]),
          itemStyle: { color: '#87CEEB', borderColor: 'rgba(255,255,255,0.55)', borderWidth: 1 }, silent: true,
          markArea: { silent: true, itemStyle: { color: '#DCDCDC' }, data: ertPeriods.map(([a, b]) => [{ xAxis: a }, { xAxis: b }]) },
        },
        {
          type: 'bar', name: 'Monthly rainfall - ET0', xAxisIndex: 1, yAxisIndex: 0, barWidth: 18, barGap: '-100%',
          data: monthlyNet.map((v, i) => [monthStartDay(i), v]),
          itemStyle: { color: '#3CB371', borderColor: 'rgba(255,255,255,0.45)', borderWidth: 1 }, silent: true,
        },
        {
          type: 'bar', name: 'Weekly rainfall', xAxisIndex: 0, yAxisIndex: 0, barWidth: 4.5, barGap: '-100%',
          data: weeklyRain.map((v, k) => [1 + 7 * k, v]), itemStyle: { color: '#4169E1' }, silent: true,
        },
        {
          type: 'bar', name: 'Weekly rainfall - ET0', xAxisIndex: 0, yAxisIndex: 0, barWidth: 4.5, barGap: '-100%',
          data: weeklyNet.map((v, k) => [1 + 7 * k, v]), itemStyle: { color: '#006400' }, silent: true,
        },
        lineStyleSeries('Soil water content 10 cm', 2, 1, joinSegments(swc10), '#FF0000', 2, {
          markArea: { silent: true, itemStyle: { color: '#FFC0CB' }, data: [[{ xAxis: dryPeriod[0] }, { xAxis: dryPeriod[1] }]] },
        }),
        lineStyleSeries('Soil water content 50 cm', 2, 1, joinSegments(swc50), '#808080', 2),
        lineStyleSeries('Soil water content 105 cm', 2, 1, joinSegments(swc105), '#000000', 2),
        lineStyleSeries('PWD1', 3, 2, joinSegments(pwd1), '#CD853F', 1.5, {
          markArea: { silent: true, itemStyle: { borderColor: '#ffffff', borderWidth: 1 }, data: dripAreas },
        }),
        lineStyleSeries('PWD2', 3, 3, joinSegments(pwd2), '#0000CD', 1.8),
        lineStyleSeries('PWD3', 3, 3, joinSegments(pwd3), '#006400', 1.5),
        lineStyleSeries('Percolating water conductivity (PWD1)', 4, 4, joinSegments(percolatingEc), '#90EE90', 2),
        {
          type: 'custom', name: 'Rain water conductivity', xAxisIndex: 4, yAxisIndex: 4, silent: true, z: 5,
          data: rainEc.map(([d, v]) => [d, v, RAIN_EC_ERR]),
          encode: { x: 0, y: 1 },
          renderItem: (params: any, api: any) => {
            const x = api.value(0), y = api.value(1), e = api.value(2);
            const c = api.coord([x, y]);
            const top = api.coord([x, y + e]);
            const bot = api.coord([x, y - e]);
            const st = { stroke: '#0000FF', lineWidth: 1.2 };
            return {
              type: 'group',
              children: [
                { type: 'line', shape: { x1: c[0], y1: top[1], x2: c[0], y2: bot[1] }, style: st },
                { type: 'line', shape: { x1: c[0] - 4, y1: top[1], x2: c[0] + 4, y2: top[1] }, style: st },
                { type: 'line', shape: { x1: c[0] - 4, y1: bot[1], x2: c[0] + 4, y2: bot[1] }, style: st },
                { type: 'circle', shape: { cx: c[0], cy: c[1], r: 2.8 }, style: { fill: '#0000FF' } },
              ],
            };
          },
        },
      ],
      graphic: { elements: graphics },
    };
    chart.setOption(option);
    return () => chart.dispose();
  }, []);
  return <div ref={ref} style={{ position: 'absolute', left: 0, top: 0, width: 997, height: 1106 }} />;
}
